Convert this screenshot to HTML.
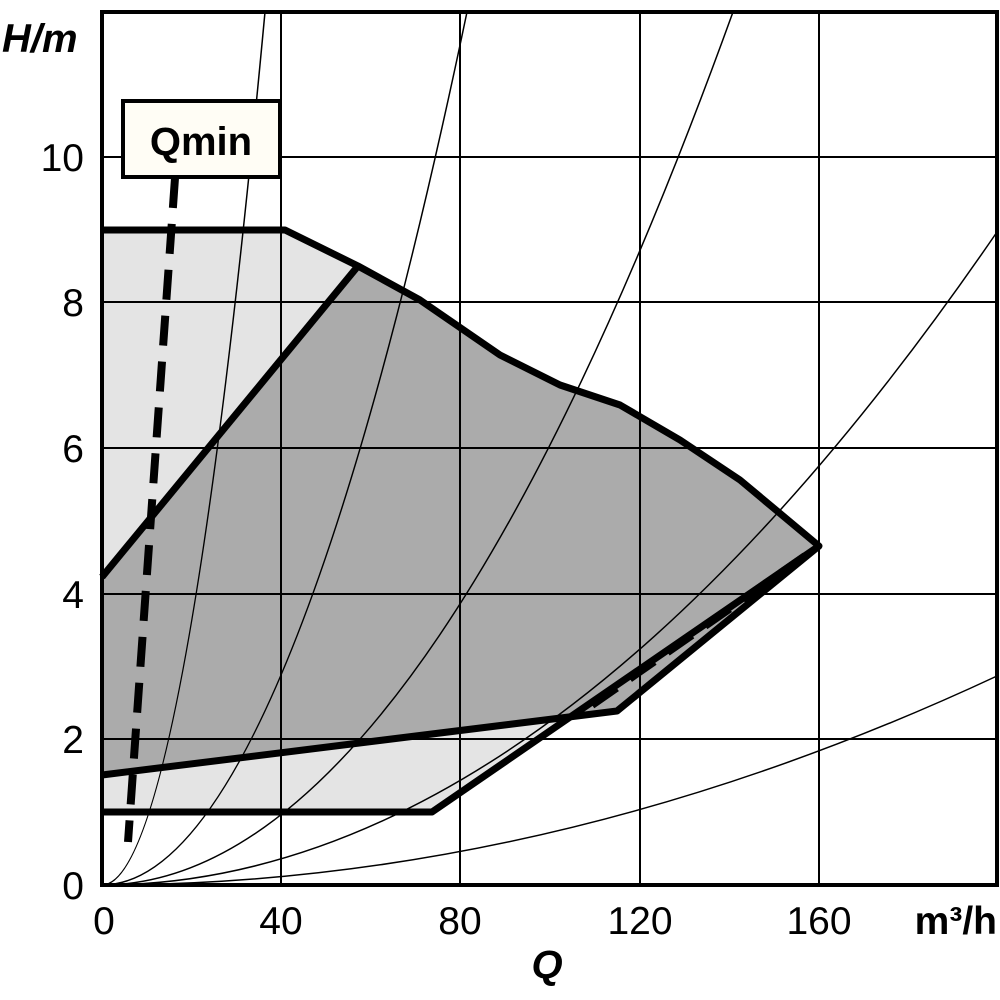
<!DOCTYPE html>
<html><head><style>body{margin:0;background:#fff}svg{display:block}</style></head><body>
<svg width="1000" height="1000" viewBox="0 0 1000 1000" xmlns="http://www.w3.org/2000/svg" font-family="Liberation Sans, sans-serif">
<rect width="1000" height="1000" fill="#fff"/>
<polygon points="102,230 285,230 358,266 420,300 500,355 560,385 620,405 680,440 740,480 819,546 432,812 102,812" fill="#e4e4e4"/>
<polygon points="102,577 358,266 420,300 500,355 560,385 620,405 680,440 740,480 819,546 617,711 102,775" fill="#ababab"/>
<g stroke="#000" stroke-width="2">
<line x1="281" y1="12" x2="281" y2="885"/><line x1="460" y1="12" x2="460" y2="885"/><line x1="640" y1="12" x2="640" y2="885"/><line x1="819" y1="12" x2="819" y2="885"/>
<line x1="102" y1="157" x2="997" y2="157"/><line x1="102" y1="302" x2="997" y2="302"/><line x1="102" y1="448" x2="997" y2="448"/><line x1="102" y1="594" x2="997" y2="594"/><line x1="102" y1="739" x2="997" y2="739"/>
</g>
<g fill="none" stroke="#000" stroke-width="1.5">
<path d="M102,885 Q183.5,885 265,12"/>
<path d="M102,885 Q284.5,885 467,12"/>
<path d="M102,885 Q417.5,885 733,12"/>
<path d="M102,885 Q549.5,885 997,232"/>
<path d="M102,885 Q549.5,885 997,676"/>
</g>
<g fill="none" stroke="#000" stroke-width="7" stroke-linejoin="round">
<polyline points="102,230 285,230 358,266 420,300 500,355 560,385 620,405 680,440 740,480 819,546 617,711 102,775"/>
<polyline points="102,577 358,266"/>
<polyline points="102,812 432,812 819,546"/>
</g>
<g stroke="#000" stroke-width="8" stroke-dasharray="30,16" fill="none">
<line x1="175" y1="178" x2="128" y2="842"/>
<line x1="592" y1="705" x2="805" y2="556"/>
</g>
<rect x="102" y="12" width="895" height="873" fill="none" stroke="#000" stroke-width="4"/>
<rect x="123" y="101" width="157" height="76" fill="#fffdf5" stroke="#000" stroke-width="4"/>
<text x="201" y="155" font-size="40" font-weight="bold" text-anchor="middle">Qmin</text>
<g font-size="39" text-anchor="end">
<text x="84" y="171">10</text><text x="84" y="316">8</text><text x="84" y="462">6</text><text x="84" y="608">4</text><text x="84" y="753">2</text><text x="84" y="899">0</text>
</g>
<g font-size="39" text-anchor="middle">
<text x="104" y="934">0</text><text x="281" y="934">40</text><text x="460" y="934">80</text><text x="640" y="934">120</text><text x="819" y="934">160</text>
</g>
<text x="2" y="52" font-size="40" font-weight="bold" font-style="italic">H/m</text>
<text x="997" y="934" font-size="39" font-weight="bold" text-anchor="end">m³/h</text>
<text x="547" y="978" font-size="40" font-weight="bold" font-style="italic" text-anchor="middle">Q</text>
</svg>
</body></html>
